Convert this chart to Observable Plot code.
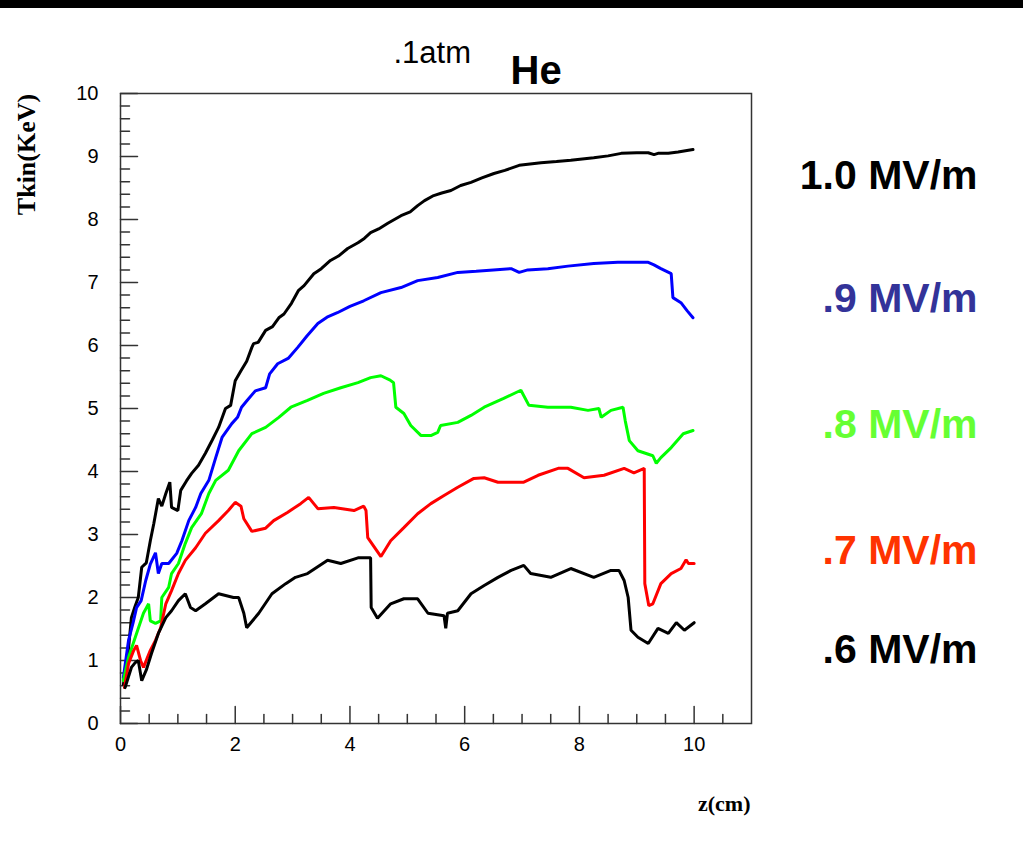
<!DOCTYPE html>
<html><head><meta charset="utf-8">
<script src="https://cdn.jsdelivr.net/npm/d3@7"></script>
<script src="https://cdn.jsdelivr.net/npm/@observablehq/plot@0.6"></script>
<style>
html,body{margin:0;padding:0;background:#fff;}
#wrap{position:relative;width:1023px;height:842px;overflow:hidden;background:#fff;}
#bar{position:absolute;left:0;top:0;width:1023px;height:8px;background:#000;}
</style></head><body>
<div id="wrap"><div id="chart"></div><div id="bar"></div></div>
<script>
// ---- data ----
const seriesNames = ["1.0 MV/m", ".9 MV/m", ".8 MV/m", ".7 MV/m", ".6 MV/m"];
const lineColors  = ["#000000", "#0000ff", "#00ff00", "#ff0000", "#000000"];
const labelColors = ["#000000", "#333399", "#66ff33", "#ff3300", "#000000"];

const z10 = [0.05,0.12,0.19,0.25,0.31,0.37,0.45,0.52,0.58,0.66,0.72,0.79,0.86,0.89,1.0,1.05,1.15,1.24,1.36,1.48,1.6,1.71,1.83,1.92,2.0,2.1,2.2,2.29,2.32,2.4,2.53,2.65,2.76,2.85,2.98,3.1,3.2,3.37,3.5,3.66,3.8,3.96,4.14,4.25,4.36,4.5,4.66,4.89,5.05,5.18,5.3,5.46,5.6,5.76,5.93,6.11,6.3,6.51,6.7,6.95,7.33,7.6,7.85,8.25,8.5,8.73,9.0,9.2,9.3,9.37,9.55,9.72,9.85,9.98];
const t10 = [0.62,1.0,1.68,1.85,2.0,2.48,2.55,2.9,3.17,3.57,3.45,3.65,3.83,3.43,3.38,3.7,3.85,3.97,4.1,4.29,4.5,4.7,5.0,5.05,5.44,5.6,5.75,5.97,6.03,6.05,6.24,6.3,6.44,6.5,6.67,6.87,6.95,7.14,7.22,7.35,7.42,7.54,7.63,7.7,7.79,7.85,7.94,8.06,8.12,8.22,8.3,8.38,8.42,8.46,8.54,8.59,8.66,8.73,8.78,8.86,8.9,8.92,8.94,8.98,9.01,9.05,9.06,9.06,9.03,9.05,9.05,9.07,9.09,9.11];

const z09 = [0.05,0.14,0.22,0.28,0.36,0.44,0.52,0.61,0.66,0.72,0.84,0.98,1.07,1.19,1.31,1.4,1.54,1.66,1.77,1.94,2.04,2.11,2.21,2.35,2.53,2.6,2.74,2.93,3.09,3.25,3.44,3.6,3.78,4.0,4.24,4.54,4.89,5.18,5.53,5.88,6.2,6.5,6.81,6.95,7.1,7.45,7.8,8.25,8.67,9.2,9.3,9.42,9.6,9.63,9.77,9.88,9.98];
const t09 = [0.73,1.32,1.6,1.84,1.95,2.27,2.53,2.71,2.38,2.54,2.54,2.7,2.9,3.22,3.43,3.65,3.86,4.22,4.54,4.76,4.86,5.02,5.13,5.28,5.33,5.55,5.71,5.8,5.97,6.15,6.35,6.45,6.52,6.62,6.71,6.84,6.92,7.03,7.08,7.16,7.18,7.2,7.22,7.16,7.2,7.22,7.26,7.3,7.32,7.32,7.28,7.22,7.14,6.76,6.68,6.55,6.44];

const z08 = [0.05,0.14,0.28,0.4,0.49,0.52,0.61,0.7,0.72,0.84,0.89,1.01,1.13,1.24,1.41,1.54,1.66,1.88,2.06,2.29,2.53,2.76,2.97,3.26,3.54,3.84,4.14,4.36,4.54,4.7,4.76,4.8,4.94,5.06,5.24,5.41,5.53,5.58,5.88,6.11,6.34,6.68,6.98,7.12,7.45,7.85,8.15,8.34,8.38,8.55,8.76,8.8,8.87,9.02,9.28,9.34,9.42,9.6,9.81,9.98];
const t08 = [0.68,1.05,1.43,1.75,1.9,1.63,1.59,1.63,2.0,2.16,2.38,2.54,2.86,3.11,3.33,3.65,3.86,4.02,4.33,4.6,4.7,4.86,5.02,5.13,5.24,5.33,5.41,5.49,5.52,5.45,5.41,5.02,4.92,4.73,4.57,4.57,4.62,4.73,4.78,4.89,5.02,5.16,5.29,5.05,5.02,5.02,4.97,5.0,4.86,4.97,5.02,4.8,4.49,4.33,4.25,4.13,4.22,4.38,4.6,4.65];

const z07 = [0.07,0.14,0.23,0.28,0.35,0.4,0.52,0.61,0.7,0.79,0.89,1.01,1.13,1.31,1.48,1.71,1.88,2.0,2.1,2.15,2.29,2.53,2.67,2.91,3.14,3.28,3.44,3.72,4.07,4.24,4.28,4.31,4.54,4.71,4.94,5.18,5.41,5.64,5.88,6.16,6.34,6.58,7.03,7.28,7.63,7.8,8.08,8.43,8.78,8.95,9.13,9.14,9.21,9.28,9.42,9.6,9.77,9.86,9.9,10.0];
const t07 = [0.57,0.95,1.16,1.24,1.0,0.89,1.16,1.32,1.52,1.9,2.11,2.38,2.59,2.79,3.02,3.22,3.38,3.51,3.45,3.25,3.05,3.1,3.22,3.35,3.49,3.59,3.41,3.43,3.38,3.45,3.38,2.95,2.65,2.9,3.11,3.33,3.49,3.62,3.75,3.89,3.9,3.83,3.83,3.94,4.05,4.05,3.9,3.94,4.05,3.98,4.05,2.22,1.87,1.9,2.22,2.38,2.46,2.6,2.54,2.54];

const z06 = [0.08,0.19,0.26,0.31,0.37,0.45,0.54,0.66,0.79,0.89,1.01,1.13,1.22,1.31,1.48,1.71,1.97,2.06,2.15,2.2,2.41,2.64,2.88,3.05,3.26,3.61,3.84,4.14,4.36,4.37,4.48,4.71,4.94,5.18,5.36,5.64,5.67,5.7,5.88,6.11,6.34,6.58,6.81,7.03,7.15,7.5,7.85,8.25,8.55,8.69,8.78,8.85,8.9,9.02,9.2,9.37,9.55,9.69,9.83,10.0];
const t06 = [0.57,0.89,0.97,1.0,0.68,0.85,1.11,1.43,1.68,1.79,1.95,2.06,1.84,1.79,1.9,2.06,2.0,2.0,1.75,1.52,1.75,2.06,2.22,2.32,2.38,2.59,2.54,2.63,2.63,1.84,1.67,1.9,1.98,1.98,1.75,1.71,1.51,1.75,1.79,2.06,2.19,2.32,2.43,2.51,2.38,2.32,2.46,2.32,2.43,2.43,2.27,2.0,1.48,1.37,1.27,1.51,1.43,1.6,1.48,1.6];

const xMajorTicks = [0, 2, 4, 6, 8, 10];
const xMinorTicks = [0.5, 1, 1.5, 2.5, 3, 3.5, 4.5, 5, 5.5, 6.5, 7, 7.5, 8.5, 9, 9.5, 10.5];
const yMajorTicks = [0, 1, 2, 3, 4, 5, 6, 7, 8, 9, 10];
const yMinorTicks = d3.range(0, 50).map(i => i / 5).filter(v => !Number.isInteger(v));

const titleText = ".1atm";
const gasText = "He";
const xTitle = "z(cm)";
const yTitle = "Tkin(KeV)";

// ---- layout (pixels) ----
const legendBaselineOffsets = [95, 218, 344, 470, 569]; // below frame top
const sans = "'Liberation Sans', Arial, Helvetica, sans-serif";
const serif = "'Liberation Serif', 'Times New Roman', serif";

const allSeries = [[z10,t10],[z09,t09],[z08,t08],[z07,t07],[z06,t06]];
const rows = [];
allSeries.forEach(([zs, ts], i) => zs.forEach((z, j) => rows.push({series: seriesNames[i], idx: i, z, t: ts[j]})));

const tickShape = {draw(ctx, l) { ctx.moveTo(0, 0); ctx.lineTo(0, -l); }};
const tickStyle = {stroke: "#333", strokeWidth: 1.5, anchor: "start", shape: tickShape};

const marks = [
  Plot.frame({stroke: "#333", strokeWidth: 1.5}),
  Plot.vector(yMajorTicks, {y: d => d, frameAnchor: "left", rotate: 90, length: 17, ...tickStyle}),
  Plot.vector(yMinorTicks, {y: d => d, frameAnchor: "left", rotate: 90, length: 9, ...tickStyle}),
  Plot.vector(xMajorTicks, {x: d => d, frameAnchor: "bottom", rotate: 0, length: 17, ...tickStyle}),
  Plot.vector(xMinorTicks, {x: d => d, frameAnchor: "bottom", rotate: 0, length: 9, ...tickStyle}),
  Plot.axisX({ticks: xMajorTicks, tickSize: 0, tickPadding: 13, fontSize: 20, label: null, tickFormat: d => String(d)}),
  Plot.axisY({ticks: yMajorTicks, tickSize: 0, tickPadding: 22, fontSize: 20, label: null, tickFormat: d => String(d)}),
  ...seriesNames.map((s, i) => Plot.line(rows.filter(r => r.idx === i), {
    x: "z", y: "t", stroke: lineColors[i], strokeWidth: 3, strokeLinejoin: "miter", curve: "linear"
  })),
  Plot.text([titleText], {text: d => d, frameAnchor: "top-left", dx: 273, dy: -31, textAnchor: "start", lineAnchor: "bottom", fontSize: 31, fontFamily: sans, fill: "#000"}),
  Plot.text([gasText], {text: d => d, frameAnchor: "top-left", dx: 390, dy: -10, textAnchor: "start", lineAnchor: "bottom", fontSize: 40, fontWeight: "bold", fontFamily: sans, fill: "#000"}),
  Plot.text([yTitle], {text: d => d, frameAnchor: "top-left", dx: -94, dy: 61, rotate: -90, textAnchor: "middle", lineAnchor: "middle", fontSize: 26, fontWeight: "bold", fontFamily: serif, fill: "#000"}),
  Plot.text([xTitle], {text: d => d, frameAnchor: "bottom-right", dx: -1, dy: 87, textAnchor: "end", lineAnchor: "bottom", fontSize: 22, fontWeight: "bold", fontFamily: serif, fill: "#000"}),
  ...seriesNames.map((s, i) => Plot.text([s], {text: d => d, frameAnchor: "top-right", dx: 226, dy: legendBaselineOffsets[i], textAnchor: "end", lineAnchor: "bottom", fontSize: 41, fontWeight: "bold", fontFamily: sans, fill: labelColors[i]}))
];

const chart = Plot.plot({
  width: 1023, height: 842,
  marginLeft: 120, marginRight: 272, marginTop: 93, marginBottom: 119,
  x: {domain: [0, 11], axis: null},
  y: {domain: [0, 10], axis: null},
  style: {fontFamily: sans, fontSize: "20px", color: "#000", background: "#fff", overflow: "visible"},
  marks
});
document.getElementById("chart").appendChild(chart);
</script></body></html>
